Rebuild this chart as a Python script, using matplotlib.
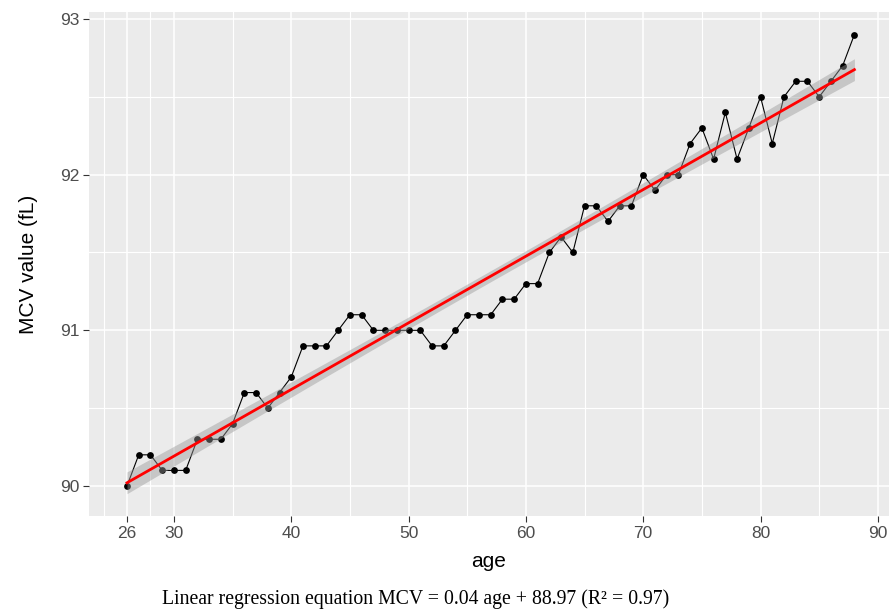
import numpy as np
import matplotlib
matplotlib.use("Agg")
import matplotlib.pyplot as plt

# mean MCV by age
age = np.arange(26, 89)
mcv = [90.0, 90.2, 90.2, 90.1, 90.1, 90.1, 90.3, 90.3, 90.3, 90.4,
       90.6, 90.6, 90.5, 90.6, 90.7, 90.9, 90.9, 90.9, 91.0, 91.1,
       91.1, 91.0, 91.0, 91.0, 91.0, 91.0, 90.9, 90.9, 91.0, 91.1,
       91.1, 91.1, 91.2, 91.2, 91.3, 91.3, 91.5, 91.6, 91.5, 91.8,
       91.8, 91.7, 91.8, 91.8, 92.0, 91.9, 92.0, 92.0, 92.2, 92.3,
       92.1, 92.4, 92.1, 92.3, 92.5, 92.2, 92.5, 92.6, 92.6, 92.5,
       92.6, 92.7, 92.9]
mcv = np.array(mcv)

x_ticks = [26, 30, 40, 50, 60, 70, 80, 90]
x_minor = [24, 28, 35, 45, 55, 65, 75, 85]
y_ticks = [90, 91, 92, 93]
y_minor = [90.5, 91.5, 92.5]

caption = "Linear regression equation MCV = 0.04 age + 88.97 (R\u00b2 = 0.97)"

# lm fit + 95% CI like geom_smooth(method="lm")
n = len(age)
b1, b0 = np.polyfit(age, mcv, 1)
xs = np.linspace(age.min(), age.max(), 80)
fit = b0 + b1 * xs
resid = mcv - (b0 + b1 * age)
s = np.sqrt(np.sum(resid ** 2) / (n - 2))
sxx = np.sum((age - age.mean()) ** 2)
se = s * np.sqrt(1 / n + (xs - age.mean()) ** 2 / sxx)
tq = 1.999  # t(0.975, 61)

plt.rcParams['font.family'] = ['Liberation Sans', 'DejaVu Sans']

fig = plt.figure(figsize=(8.89, 6.10), dpi=100)
ax = fig.add_axes([0.1001, 0.1541, 0.8999, 0.8262])
ax.set_facecolor("#EBEBEB")
for sp in ax.spines.values():
    sp.set_visible(False)

for v in x_minor:
    ax.axvline(v, color="white", lw=0.8, zorder=0)
for v in x_ticks:
    ax.axvline(v, color="white", lw=1.1, zorder=0)
for v in y_minor:
    ax.axhline(v, color="white", lw=0.8, zorder=0)
for v in y_ticks:
    ax.axhline(v, color="white", lw=1.1, zorder=0)

ax.plot(age, mcv, color="black", lw=0.8, zorder=2)
ax.scatter(age, mcv, s=24, color="black", zorder=3, linewidths=0)
ax.fill_between(xs, fit - tq * se, fit + tq * se, color="#999999", alpha=0.45,
                lw=0, zorder=4)
ax.plot(xs, fit, color="red", lw=2.0, zorder=5)

ax.set_xlim(22.76, 90.95)
ax.set_ylim(89.807, 93.045)
ax.set_xticks(x_ticks)
ax.set_yticks(y_ticks)
ax.tick_params(axis="both", colors="#333333", length=4, width=0.8,
               labelcolor="#4D4D4D", labelsize=12.5, pad=3)

ax.set_xlabel("age", fontsize=15, labelpad=8)
ax.set_ylabel("MCV value (fL)", fontsize=15, labelpad=16)

fig.text(0.467, 0.002, caption, family="Liberation Serif", fontsize=14.2,
         ha="center", va="bottom")

fig.savefig("out.png", dpi=100)
